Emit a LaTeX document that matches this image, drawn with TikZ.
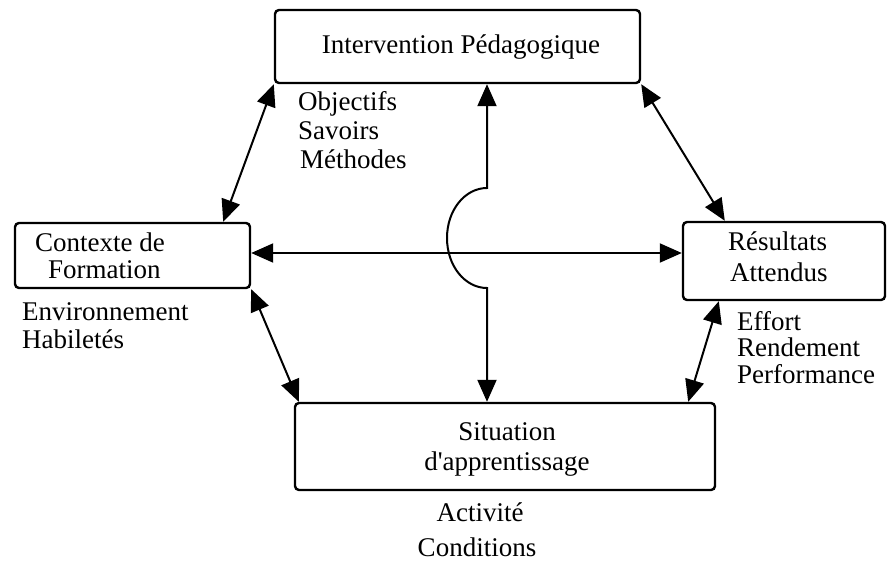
\documentclass[tikz,border=0pt]{standalone}
\usepackage{fontspec}
\setmainfont{Liberation Serif}
\usetikzlibrary{arrows.meta}
\begin{document}
\begin{tikzpicture}[x=1pt,y=-1pt,
  box/.style={draw,line width=2.4pt,rounded corners=4pt,inner sep=0pt},
  lbl/.style={inner sep=0pt,anchor=base west,font=\fontsize{27}{29}\selectfont},
  clbl/.style={inner sep=0pt,anchor=base,font=\fontsize{27}{29}\selectfont},
  arr/.style={line width=2pt,{Triangle[length=22pt,width=19pt]}-{Triangle[length=22pt,width=19pt]}}]
\useasboundingbox (0,0) rectangle (894,565);
% boxes
\node[box,minimum width=365pt,minimum height=73pt] (top) at (457.5,46.5) {};
\node[box,minimum width=235pt,minimum height=65pt] (left) at (132.5,255.5) {};
\node[box,minimum width=202pt,minimum height=78pt] (right) at (784,261) {};
\node[box,minimum width=420pt,minimum height=87pt] (bottom) at (505,446.5) {};
% box texts
\node[clbl] (t1) at (461,53) {Intervention Pédagogique};
\node[lbl] (l1) at (35,251) {Contexte de};
\node[lbl] (l2) at (48,278) {Formation};
\node[lbl] (r1) at (728,250) {Résultats};
\node[lbl] (r2) at (730,281) {Attendus};
\node[clbl] (b1) at (507,440) {Situation};
\node[clbl] (b2) at (507,470) {d\textquotesingle apprentissage};
% side texts
\node[lbl] (o1) at (298,110) {Objectifs};
\node[lbl] (o2) at (298,139) {Savoirs};
\node[lbl] (o3) at (300,168) {Méthodes};
\node[lbl] (e1) at (22,320) {Environnement};
\node[lbl] (e2) at (22,348) {Habiletés};
\node[lbl] (f1) at (737,330) {Effort};
\node[lbl] (f2) at (737,356) {Rendement};
\node[lbl] (f3) at (737,383) {Performance};
\node[clbl] (a1) at (480,521) {Activité};
\node[clbl] (a2) at (477,556) {Conditions};
% helper coordinates
\coordinate (vx) at (487,0);
\coordinate (hy) at (0,253);
% connectors
\draw[arr] (top.south west) -- ([xshift=-28pt]left.north east);
\draw[arr] (top.south east) -- ([xshift=43pt]right.north west);
\draw[arr] (left.south east) -- ([xshift=5pt]bottom.north west);
\draw[arr] ([xshift=37pt]right.south west) -- ([xshift=-28pt]bottom.north east);
\draw[arr] (left.east |- hy) -- (right.west |- hy);
\draw[arr] (top.south -| vx) -- (487,188) .. controls (465,188) and (447,210) .. (447,238)
  .. controls (447,266) and (465,288) .. (487,288) -- (bottom.north -| vx);
\end{tikzpicture}
\end{document}
